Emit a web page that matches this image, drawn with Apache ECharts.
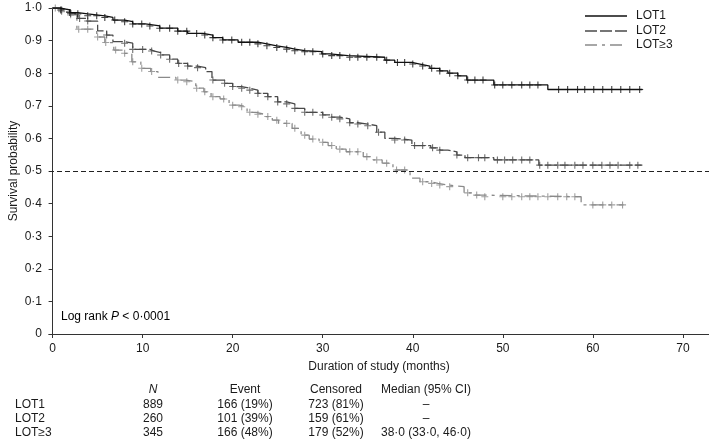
<!DOCTYPE html>
<html>
<head>
<meta charset="utf-8">
<script src="https://cdn.jsdelivr.net/npm/echarts@6/dist/echarts.min.js"></script>
<style>
html,body{margin:0;padding:0;background:#fff;}
#main{width:709px;height:440px;}
</style>
</head>
<body>
<div id="main"></div>
<script>
// ---- Data ----
const seriesNames = ['LOT1', 'LOT2', 'LOT≥3'];

// Step curves: [time (months), survival probability from that time onward]
const lot1Steps = [[0,1.0],[0.8,0.994],[1.9,0.986],[2.8,0.982],[3.9,0.976],[5.8,0.971],[6.7,0.963],[8.0,0.958],[8.9,0.951],[10.3,0.945],[11.9,0.938],[13.9,0.929],[15.0,0.922],[16.7,0.917],[17.8,0.909],[18.9,0.902],[20.6,0.895],[22.8,0.890],[23.8,0.884],[24.9,0.879],[26.0,0.874],[26.9,0.869],[28.0,0.866],[29.9,0.859],[30.8,0.854],[32.8,0.849],[36.9,0.840],[38.0,0.833],[39.9,0.828],[40.8,0.822],[41.9,0.815],[43.0,0.807],[43.9,0.800],[45.0,0.792],[46.0,0.779],[49.0,0.764],[55.0,0.750],[65.5,0.750]];
const lot2Steps = [[0,1.0],[0.8,0.994],[2.0,0.983],[2.8,0.968],[3.8,0.960],[5.0,0.930],[6.0,0.917],[6.7,0.897],[8.0,0.892],[8.9,0.873],[10.8,0.868],[11.3,0.863],[12.0,0.856],[13.0,0.843],[13.9,0.830],[15.0,0.822],[16.1,0.817],[17.0,0.805],[17.7,0.779],[19.1,0.769],[20.0,0.759],[21.0,0.754],[21.9,0.748],[22.8,0.738],[23.9,0.728],[25.0,0.712],[26.0,0.706],[26.9,0.692],[28.0,0.680],[30.0,0.672],[31.0,0.665],[31.9,0.660],[33.0,0.648],[33.9,0.644],[35.0,0.639],[36.0,0.619],[36.9,0.600],[38.0,0.595],[39.9,0.578],[42.0,0.571],[43.0,0.564],[43.9,0.559],[44.9,0.549],[45.8,0.541],[49.0,0.534],[54.0,0.518],[65.5,0.518]];
const lot3Steps = [[0,1.0],[1.0,0.989],[1.9,0.979],[2.7,0.935],[4.9,0.911],[5.8,0.894],[6.8,0.871],[7.9,0.861],[8.8,0.835],[9.8,0.815],[10.9,0.805],[11.7,0.787],[13.7,0.779],[14.8,0.774],[15.9,0.754],[16.8,0.743],[17.6,0.728],[18.6,0.721],[19.6,0.702],[20.7,0.697],[21.6,0.680],[22.6,0.674],[23.5,0.667],[24.4,0.656],[25.1,0.646],[26.6,0.631],[27.6,0.610],[28.5,0.598],[29.6,0.588],[30.6,0.578],[31.5,0.567],[32.6,0.559],[34.5,0.544],[35.6,0.534],[36.6,0.524],[37.8,0.503],[39.7,0.478],[40.8,0.467],[41.9,0.462],[42.8,0.457],[43.9,0.452],[45.7,0.433],[46.9,0.426],[47.8,0.421],[58.7,0.396],[63.4,0.396]];

// Censoring times (months)
const lot1Censor = [0.9,1.9,2.8,3.9,4.9,5.8,6.9,8.0,8.9,9.9,10.8,11.9,13.0,13.9,14.9,16.0,16.9,17.8,18.9,19.9,21.0,21.9,22.8,23.8,24.9,26.0,26.9,28.0,28.9,30.0,31.0,31.9,33.0,33.9,34.9,36.0,37.1,38.3,39.1,40.0,41.1,42.1,43.0,44.1,45.0,46.1,46.9,47.8,49.1,50.0,51.0,52.1,53.0,53.9,56.2,57.2,58.3,59.1,60.1,61.1,62.1,63.1,64.1,65.2];
const lot2Censor = [1.0,2.0,3.0,3.9,6.0,8.0,8.9,10.0,11.0,12.0,13.0,14.0,15.0,16.1,17.8,19.1,20.0,21.0,21.9,22.8,23.9,25.0,26.0,26.9,28.0,28.9,30.0,31.0,31.9,33.0,33.9,35.0,36.2,38.0,39.1,40.2,41.1,42.2,43.0,44.9,46.1,47.3,48.0,49.4,50.2,51.1,52.1,53.0,54.1,55.0,56.1,56.9,58.0,58.9,60.0,61.0,61.9,62.8,64.1,65.0];
const lot3Censor = [0.3,1.0,2.0,2.9,3.9,5.0,5.9,7.0,8.0,8.9,9.9,11.0,13.9,14.9,16.0,16.9,17.8,19.0,20.0,21.0,21.9,22.8,23.9,24.9,26.0,26.9,28.0,28.9,30.0,31.0,31.9,33.0,33.9,34.9,36.0,37.1,38.2,39.1,41.1,42.1,43.0,44.1,46.1,47.1,48.0,50.0,51.0,52.1,53.0,53.9,55.0,56.1,57.1,58.0,60.0,61.1,62.1,63.3];

const xTicks = [0,10,20,30,40,50,60,70];
const yTicks = [0,0.1,0.2,0.3,0.4,0.5,0.6,0.7,0.8,0.9,1.0];
const medianLine = 0.5;

// Table under the chart
const tableHeaders = ['N','Event','Censored','Median (95% CI)'];
const tableRowLabels = ['LOT1','LOT2','LOT≥3'];
const colN = ['889','260','345'];
const colEvent = ['166 (19%)','101 (39%)','166 (48%)'];
const colCensored = ['723 (81%)','159 (61%)','179 (52%)'];
const colMedian = ['–','–','38·0 (33·0, 46·0)'];

// ---- Rendering ----
const FONT = '"Liberation Sans", Arial, Helvetica, sans-serif';
const TXT = '#1a1a1a';
const colors = ['#111111', '#4a4a4a', '#8a8a8a'];
const dashes = ['solid', [12,3], [12,5,3,5]];
const stepsAll = [lot1Steps, lot2Steps, lot3Steps];
const censorAll = [lot1Censor, lot2Censor, lot3Censor];

function survAt(steps, t) {
  let s = steps[0][1];
  for (const p of steps) { if (p[0] <= t) s = p[1]; else break; }
  return s;
}
function yLabel(v) {
  const r = Math.round(v * 10) / 10;
  if (r === 0) return '0';
  return r.toFixed(1).replace('.', '·');
}

const series = [];
stepsAll.forEach((steps, i) => {
  const s = {
    name: seriesNames[i], type: 'line', step: 'end', data: steps,
    symbol: 'none', silent: true, z: 5 - i,
    lineStyle: { color: colors[i], width: 1.3, type: dashes[i] },
    itemStyle: { color: colors[i] }
  };
  if (i === 0) {
    s.markLine = {
      silent: true, symbol: 'none', label: { show: false },
      lineStyle: { color: '#222', width: 1, type: [5,3] },
      data: [{ yAxis: medianLine }]
    };
  }
  series.push(s);
  series.push({
    name: 'censor' + i, type: 'scatter', silent: true, z: 5 - i,
    data: censorAll[i].map(t => [t, survAt(steps, t)]),
    symbol: 'path://M5,0L5,10M0,5L10,5', symbolSize: 7,
    itemStyle: { color: 'none', borderColor: colors[i], borderWidth: 1.1 }
  });
});

const chart = echarts.init(document.getElementById('main'), null, { renderer: 'canvas' });

const g = [];
// Legend (drawn manually to keep dash patterns)
const legY = [16, 31, 45];
seriesNames.forEach((n, i) => {
  g.push({ type: 'line', silent: true,
    shape: { x1: 585, y1: legY[i], x2: 627, y2: legY[i] },
    style: { stroke: colors[i], lineWidth: 1.3, lineDash: dashes[i] === 'solid' ? null : dashes[i] } });
  g.push({ type: 'text', x: 636, y: legY[i],
    style: { text: n, fill: TXT, font: '12px ' + FONT, textAlign: 'left', textVerticalAlign: 'middle' } });
});
// Table
const colX = [153, 245, 336, 426];
const headerY = 390, rowY = [405, 419, 433];
tableHeaders.forEach((h, j) => {
  g.push({ type: 'text', x: colX[j], y: headerY,
    style: { text: h, fill: TXT, font: (j === 0 ? 'italic ' : '') + '12px ' + FONT, textAlign: 'center', textVerticalAlign: 'middle' } });
});
const cols = [colN, colEvent, colCensored, colMedian];
tableRowLabels.forEach((r, i) => {
  g.push({ type: 'text', x: 15, y: rowY[i],
    style: { text: r, fill: TXT, font: '12px ' + FONT, textAlign: 'left', textVerticalAlign: 'middle' } });
  cols.forEach((c, j) => {
    g.push({ type: 'text', x: colX[j], y: rowY[i],
      style: { text: c[i], fill: TXT, font: '12px ' + FONT, textAlign: 'center', textVerticalAlign: 'middle' } });
  });
});
g.push({ type: 'text', x: 61, y: 317,
  style: { text: '{a|Log rank }{i|P}{a| < 0·0001}', textVerticalAlign: 'middle',
    rich: { a: { fontSize: 12, fontFamily: FONT, color: TXT }, i: { fontSize: 12, fontFamily: FONT, fontStyle: 'italic', color: TXT } } } });

chart.setOption({
  animation: false,
  backgroundColor: '#fff',
  textStyle: { fontFamily: FONT },
  grid: { left: 49, right: 0, top: 8, bottom: 106, containLabel: false, outerBoundsMode: 'none' },
  xAxis: {
    type: 'value', min: -0.4, max: 72.9,
    name: 'Duration of study (months)', nameLocation: 'middle', nameGap: 27, nameMoveOverlap: false,
    nameTextStyle: { fontSize: 12, color: TXT, fontFamily: FONT },
    axisLine: { lineStyle: { color: '#333', width: 1 } },
    axisTick: { show: true, length: 4, lineStyle: { color: '#333' }, customValues: xTicks },
    axisLabel: { fontSize: 12, color: TXT, margin: 9, customValues: xTicks, formatter: v => String(v) },
    splitLine: { show: false }
  },
  yAxis: {
    type: 'value', min: 0, max: 1, interval: 0.1,
    name: 'Survival probability', nameLocation: 'middle', nameGap: 29, nameMoveOverlap: false,
    nameTextStyle: { fontSize: 12, color: TXT, fontFamily: FONT },
    axisLine: { show: true, lineStyle: { color: '#333', width: 1 } },
    axisTick: { show: true, length: 4, lineStyle: { color: '#333' }, customValues: yTicks },
    axisLabel: { fontSize: 12, color: TXT, margin: 7, customValues: yTicks, formatter: yLabel },
    splitLine: { show: false }
  },
  series: series,
  graphic: g
});
</script>
</body>
</html>
